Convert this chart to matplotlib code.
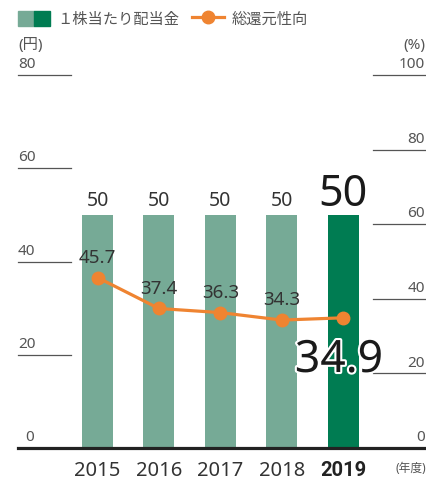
import matplotlib.pyplot as plt
import matplotlib.patheffects as pe
from matplotlib.patches import Patch
from matplotlib.lines import Line2D
from matplotlib.legend_handler import HandlerTuple

plt.rcParams['font.family'] = ['Noto Sans', 'Noto Sans CJK JP']

years = ['2015', '2016', '2017', '2018', '2019']
dividend = [50, 50, 50, 50, 50]          # 1株当たり配当金 (円)
payout = [45.7, 37.4, 36.3, 34.3, 34.9]  # 総還元性向 (%)
left_ticks = [0, 20, 40, 60, 80]
right_ticks = [0, 20, 40, 60, 80, 100]

light = '#76aa96'
dark = '#007c52'
orange = '#ef8431'
txt = '#333333'
grey = '#555555'

fig = plt.figure(figsize=(4.27, 4.80), dpi=100)
ax = fig.add_axes([18 / 427, 32 / 480, 409 / 427, 373 / 480])
ax2 = ax.twinx()

x = list(range(len(years)))
colors = [light] * (len(years) - 1) + [dark]
ax.bar(x, dividend, width=0.505, color=colors, zorder=2)
ax.set_xlim(-1.295, 5.366)
ax.set_ylim(0, 80)
ax2.set_ylim(0, 100)

for a in (ax, ax2):
    for s in ['top', 'left', 'right']:
        a.spines[s].set_visible(False)
    a.set_yticks([])
    a.set_xticks([])
ax2.spines['bottom'].set_visible(False)
ax.spines['bottom'].set_linewidth(2.3)
ax.spines['bottom'].set_color('#222222')

# year labels (last one bold)
for i, yr in enumerate(years):
    last = i == len(years) - 1
    ax.annotate(yr, (i, 0), xycoords=('data', 'axes fraction'),
                xytext=(0, -9), textcoords='offset points', ha='center',
                va='top', fontsize=14.5, color='#222222' if last else txt,
                fontweight='bold' if last else 'normal',
                family='Roboto' if last else None)

# short grid lines and axis numbers
for v in left_ticks:
    if v > 0:
        ax.plot([0, 0.13], [v, v], color=grey, lw=0.9,
                transform=ax.get_yaxis_transform(), clip_on=False)
    ax.annotate(str(v), (0, v), xycoords=ax.get_yaxis_transform(),
                xytext=(5 if v == 0 else 0, 2), textcoords='offset points',
                ha='left', va='bottom', fontsize=11, color=grey)
for v in right_ticks:
    if v > 0:
        ax2.plot([0.868, 1.0], [v, v], color=grey, lw=0.9,
                 transform=ax2.get_yaxis_transform(), clip_on=False)
    ax2.annotate(str(v), (1, v), xycoords=ax2.get_yaxis_transform(),
                 xytext=(-1.5, 2), textcoords='offset points',
                 ha='right', va='bottom', fontsize=11, color=grey)

ax.annotate('(円)', (0, 1), xycoords='axes fraction', xytext=(0, 21),
            textcoords='offset points', ha='left', va='center',
            fontsize=11, color=grey)
ax2.annotate('(%)', (1, 1), xycoords='axes fraction', xytext=(-1.5, 21),
             textcoords='offset points', ha='right', va='center',
             fontsize=11, color=grey)
fig.text(0.998, 1 - 468 / 480, '(年度)', ha='right', va='center',
         fontsize=8.5, color=grey)

# bar labels
for i, v in enumerate(dividend):
    big = i == len(dividend) - 1
    ax.annotate(str(v), (i, v), xytext=(0, 6.5), textcoords='offset points',
                ha='center', va='baseline', fontsize=31 if big else 14,
                color='#1a1a1a' if big else txt, zorder=5)

# payout ratio line
ax2.plot(x, payout, color=orange, lw=2.3, marker='o', markersize=9, zorder=4)
for i, v in enumerate(payout):
    if i == len(payout) - 1:
        t = ax2.annotate(f'{v:.1f}', (i, v), xytext=(-3, -39),
                         textcoords='offset points', ha='center',
                         va='baseline', fontsize=32, color='#1a1a1a', zorder=6)
        t.set_path_effects([pe.withStroke(linewidth=3, foreground='white')])
    else:
        ax2.annotate(f'{v:.1f}', (i, v), xytext=(0, 10.5),
                     textcoords='offset points', ha='center', va='baseline',
                     fontsize=13.5, color=txt, zorder=6)

# legend
h_bar = (Patch(color=light), Patch(color=dark))
h_line = Line2D([], [], color=orange, lw=2.3, marker='o', markersize=9)
leg = fig.legend([h_bar, h_line], ['１株当たり配当金', '総還元性向'],
                 handler_map={tuple: HandlerTuple(ndivide=None, pad=0)},
                 loc='upper left', bbox_to_anchor=(18 / 427, 1 - 11 / 480),
                 bbox_transform=fig.transFigure, ncol=2, frameon=False,
                 fontsize=11, handlelength=2.1, handleheight=1.1,
                 handletextpad=0.5, columnspacing=0.8, borderpad=0,
                 borderaxespad=0)
for t in leg.get_texts():
    t.set_color(grey)

fig.savefig('out.png', dpi=100)
